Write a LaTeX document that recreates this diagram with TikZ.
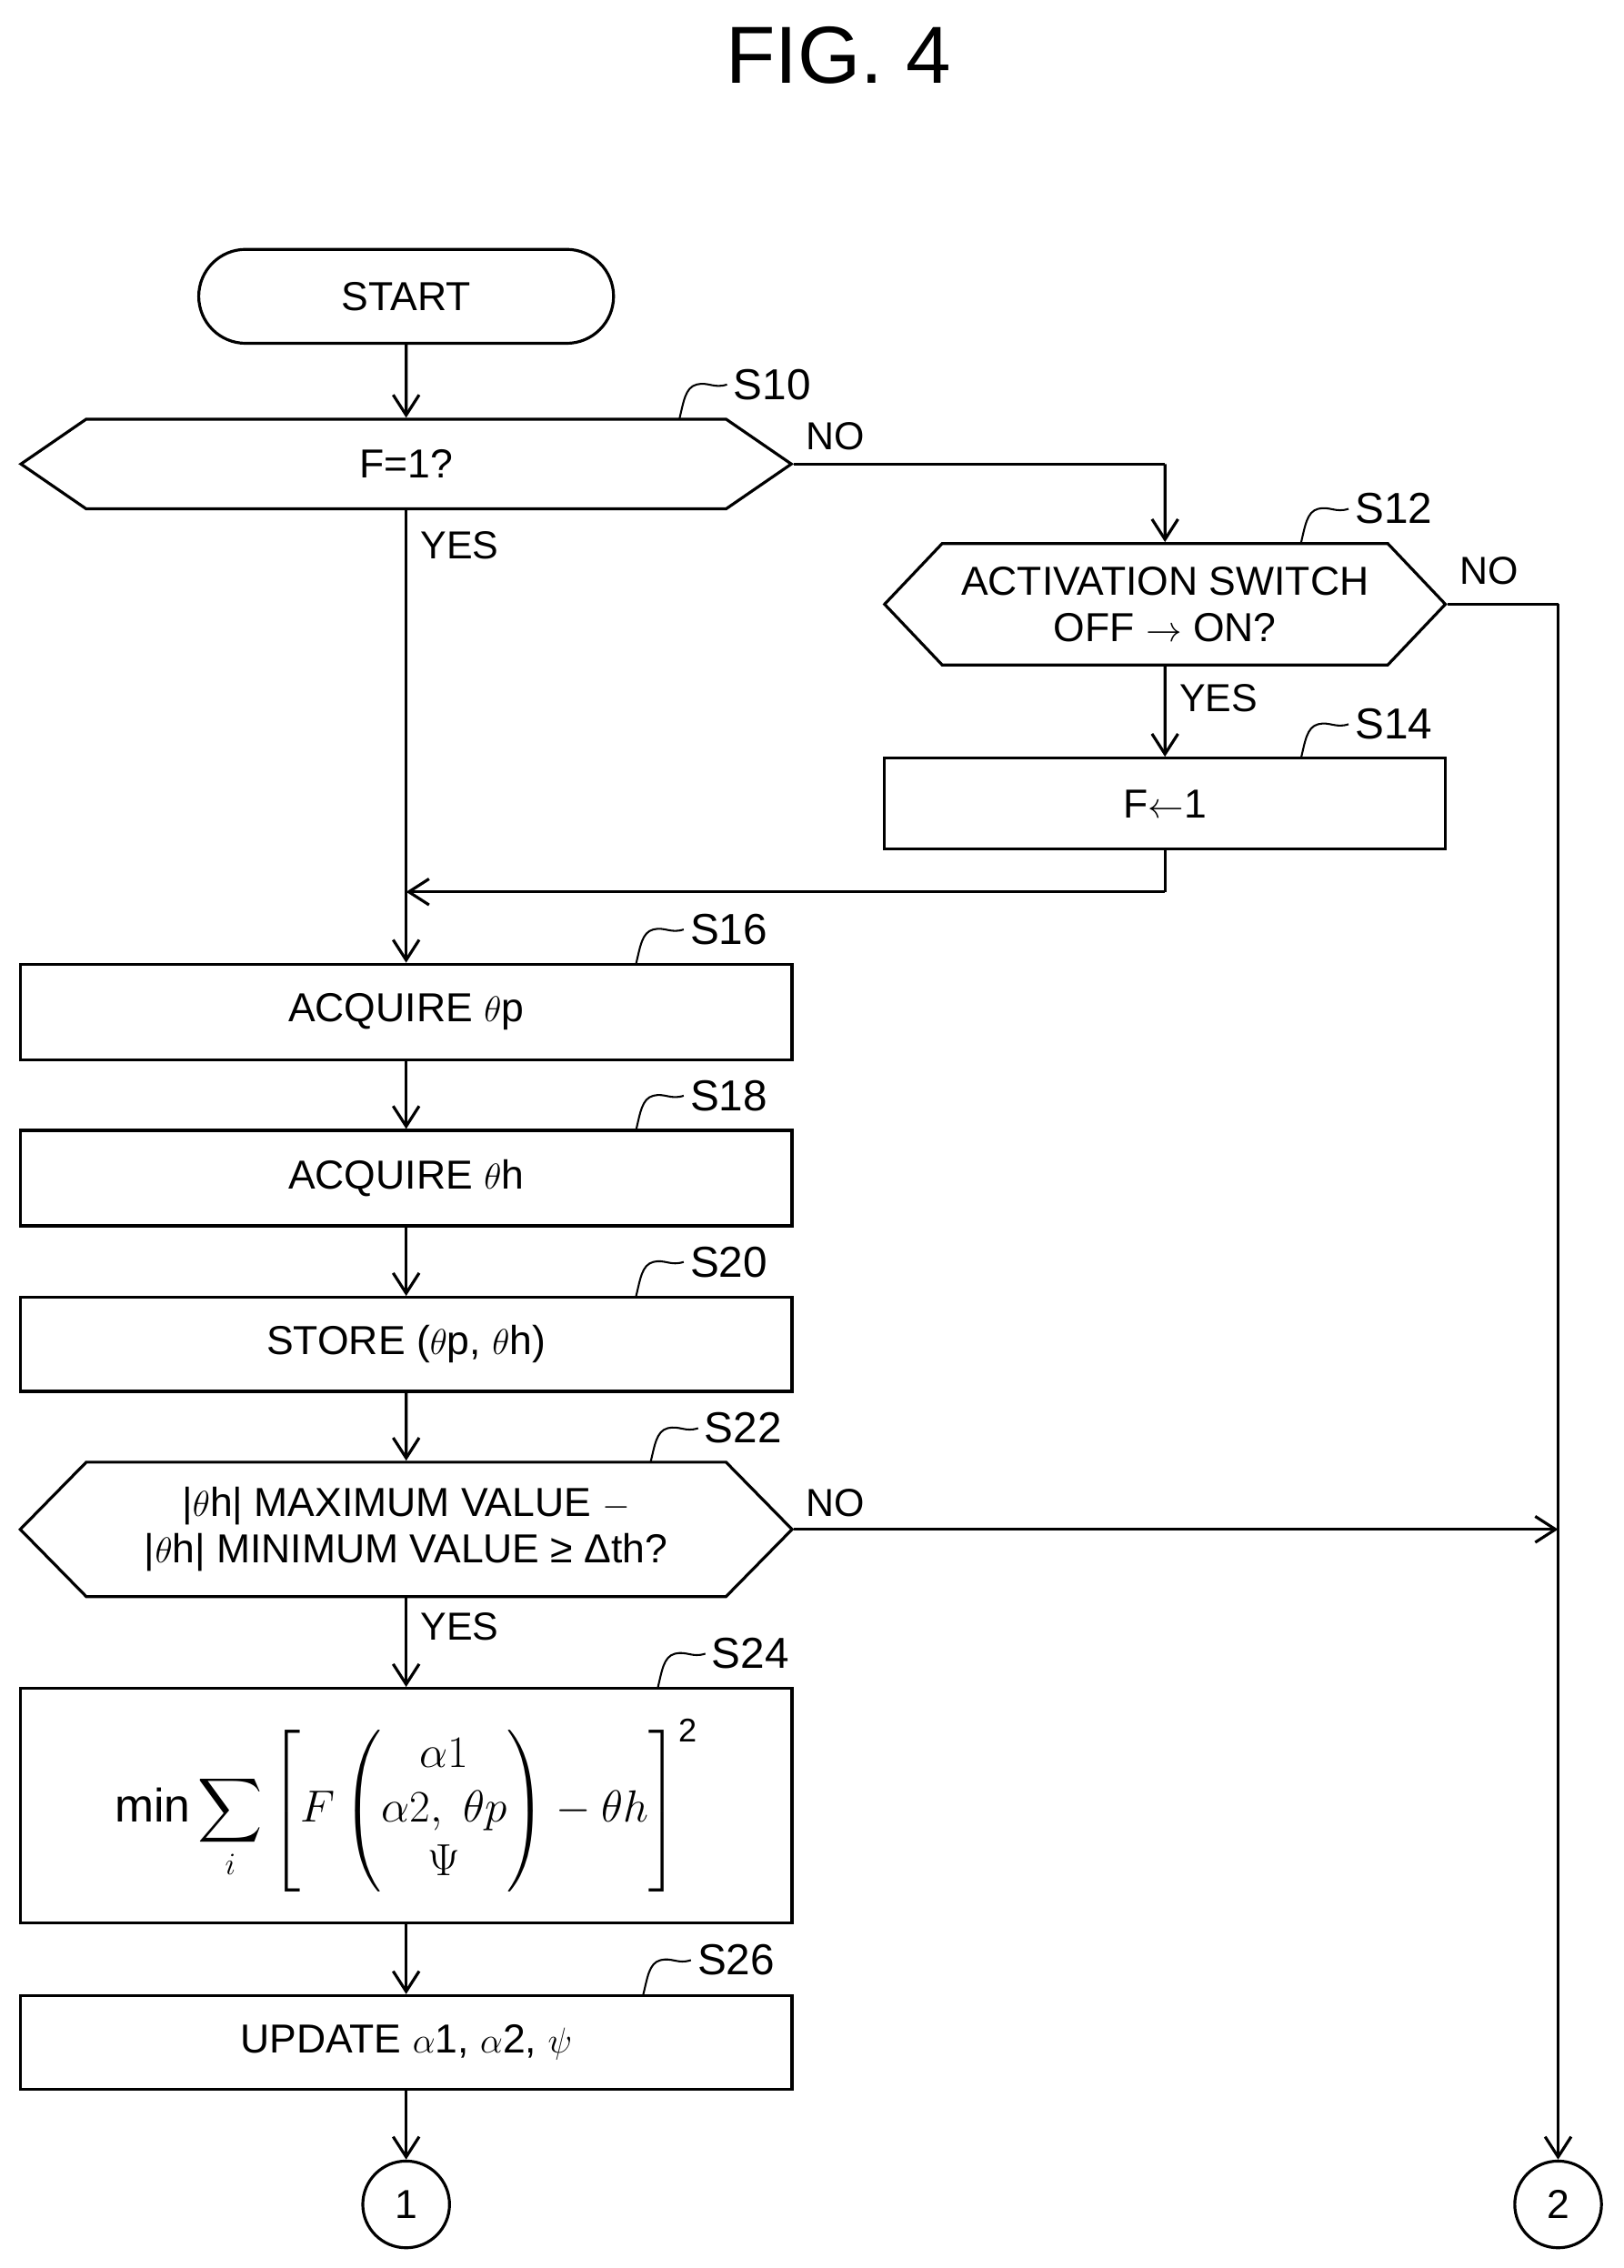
\documentclass[tikz,border=0pt]{standalone}
\usepackage{amsmath}
\usepackage{graphicx}
\usepackage{fontspec}
\setmainfont{Liberation Sans}
\usetikzlibrary{shapes.symbols,shapes.misc,arrows.meta}
\begin{document}
\begin{tikzpicture}[x=1pt,y=-1pt,
 lw/.style={line width=2pt},
 box/.style={draw,lw,rectangle,inner sep=0,font=\fontsize{28}{32}\selectfont},
 hexa/.style={draw,lw,signal,signal to=east and west,inner sep=0,align=center,font=\fontsize{28}{32}\selectfont},
 arr/.style={lw,-{Straight Barb[length=14pt,width=18pt,line width=2pt]}},
 ln/.style={lw},
 lab/.style={font=\fontsize{27}{30}\selectfont},
 steplab/.style={font=\fontsize{30}{32}\selectfont}]
\useasboundingbox (0,0) rectangle (1123,1569);
\node[font=\fontsize{56}{60}\selectfont] (title) at (580,38) {FIG. 4};
\node[box,rounded rectangle,minimum width=287,minimum height=65] (start) at (281,205) {START};
\node[hexa,minimum width=533,minimum height=62,signal pointer angle=69] (s10) at (281,321) {F=1?};
\node[hexa,minimum width=388,minimum height=84,signal pointer angle=93] (s12) at (806,418) {ACTIVATION SWITCH\\OFF $\rightarrow$ ON?};
\node[box,minimum width=388,minimum height=63] (s14) at (806,556) {F$\leftarrow$1};
\node[box,minimum width=534,minimum height=66] (s16) at (281,700) {ACQUIRE $\theta$p};
\node[box,minimum width=534,minimum height=66] (s18) at (281,815) {ACQUIRE $\theta$h};
\node[box,minimum width=534,minimum height=65] (s20) at (281,930) {STORE ($\theta$p, $\theta$h)};
\node[hexa,minimum width=534,minimum height=93,signal pointer angle=91] (s22) at (281,1058) {|$\theta$h| MAXIMUM VALUE $-$\\|$\theta$h| MINIMUM VALUE ≥ Δth?};
\node[box,minimum width=534,minimum height=162,font=\fontsize{26}{30}\selectfont] (s24) at (281,1249) {\scalebox{1.25}{$\displaystyle \text{min}\sum_{i}\left[F\begin{pmatrix}\alpha1\\ \alpha2,\ \theta p\\ \Psi\end{pmatrix}-\theta h\right]^{\text{2}}$}};
\node[box,minimum width=534,minimum height=65] (s26) at (281,1413) {UPDATE $\alpha$1, $\alpha$2, $\psi$};
\node[draw,lw,circle,minimum size=60,inner sep=0,font=\fontsize{28}{30}\selectfont] (c1) at (281,1525) {1};
\node[draw,lw,circle,minimum size=60,inner sep=0,font=\fontsize{28}{30}\selectfont] (c2) at (1078,1525) {2};
\coordinate (j1) at (806,321);
\coordinate (j2) at (1078,418);
\coordinate (j3) at (806,617);
\coordinate (j4) at (281,617);
\coordinate (j5) at (1078,1058);
\draw[arr] (start) -- (s10);
\draw[ln] (s10.east) -- (j1);
\draw[arr] (j1) -- (s12);
\draw[arr] (s12) -- (s14);
\draw[ln] (s12.east) -- (j2);
\draw[arr] (j2) -- (c2);
\draw[ln] (s14) -- (j3);
\draw[arr] (j3) -- (j4);
\draw[arr] (s10) -- (s16);
\draw[arr] (s16) -- (s18);
\draw[arr] (s18) -- (s20);
\draw[arr] (s20) -- (s22);
\draw[arr] (s22.east) -- (j5);
\draw[arr] (s22) -- (s24);
\draw[arr] (s24) -- (s26);
\draw[arr] (s26) -- (c1);
\node[lab] (n1) at (578,302) {NO};
\node[lab] (y1) at (318,377) {YES};
\node[lab] (n2) at (1030,395) {NO};
\node[lab] (y2) at (843,483) {YES};
\node[lab] (n3) at (578,1040) {NO};
\node[lab] (y3) at (318,1125) {YES};
\foreach \n/\x/\y/\t in {a/470/290/S10,b/900/376/S12,c/900/525/S14,d/440/667/S16,e/440/782/S18,f/440/897/S20,g/450/1012/S22,h/455/1168/S24,i/445/1380/S26}{
 \coordinate (p\n) at (\x,\y);
 \node[steplab,anchor=west] (t\n) at (\x+34,\y-24) {\t};
 \draw[line width=1.3pt] (p\n) .. controls (\x+3,\y-12) and (\x+4,\y-22) .. (\x+12,\y-24)
   .. controls (\x+20,\y-26) and (\x+24,\y-21) .. (\x+33,\y-24);
}
\end{tikzpicture}
\end{document}
